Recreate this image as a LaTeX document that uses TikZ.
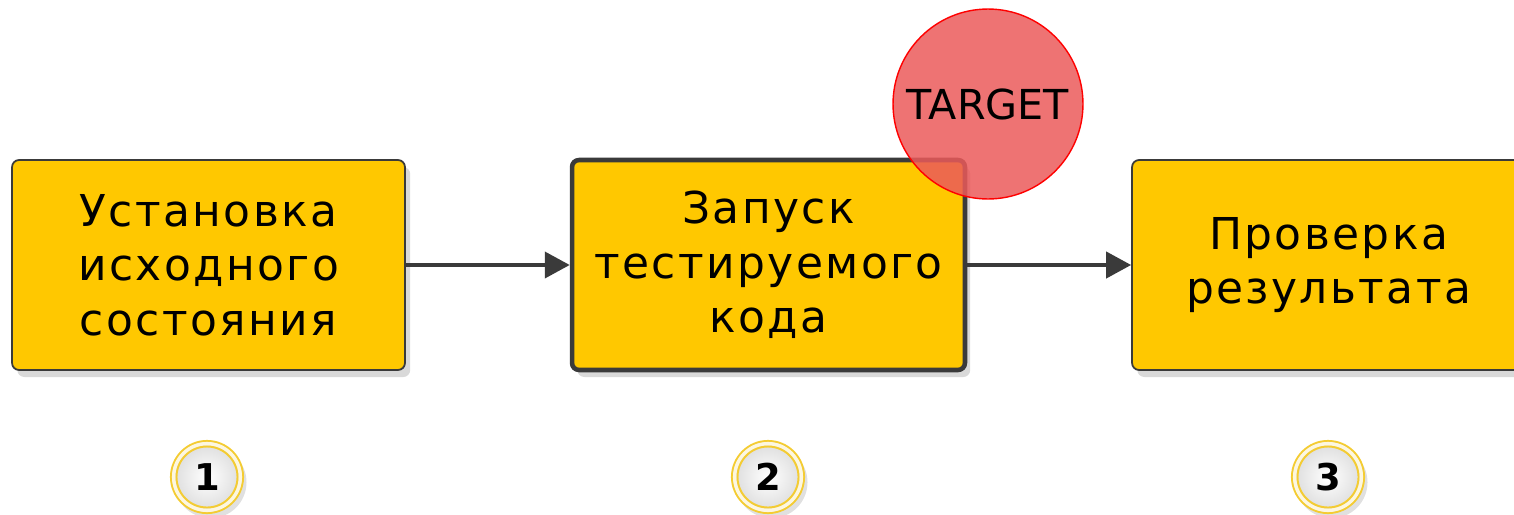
\documentclass[tikz,border=0pt]{standalone}
\usepackage{fontspec}
\setmainfont{DejaVu Sans}
\newfontfamily\boxfont[LetterSpace=5.5]{DejaVu Sans}
\usetikzlibrary{arrows.meta,shadows,positioning}
\definecolor{boxfill}{RGB}{255,200,0}
\definecolor{boxline}{RGB}{58,58,58}
\definecolor{ringgold}{RGB}{244,204,50}
\definecolor{targetfill}{RGB}{235,90,90}
\tikzset{
  stepbox/.style={draw=boxline, fill=boxfill, rounded corners=4pt,
    line width=1pt, minimum width=7.86cm, minimum height=4.2cm,
    align=center, font=\boxfont\fontsize{25}{31}\selectfont,
    drop shadow={shadow xshift=3pt, shadow yshift=-4pt, opacity=0.15, fill=black}},
  flow/.style={line width=2.3pt, draw=boxline, -{Triangle[length=0.5cm, width=0.52cm]}},
}
\begin{document}
\begin{tikzpicture}[x=0.02cm, y=-0.02cm]
  \useasboundingbox (0,0) rectangle (1514,514);
  \def\ymid{265};
  % steps
  \node[stepbox] (setup) at (208.5,\ymid) {Установка\\исходного\\состояния};
  \node[stepbox, line width=2.6pt] (run) at (768.5,\ymid) {Запуск\\тестируемого\\кода};
  \node[stepbox] (check) at (1328.5,\ymid) {Проверка\\результата};
  \draw[flow] (setup) -- (run);
  \draw[flow] (run) -- (check);
  % target mark
  \node[circle, minimum size=3.8cm, fill=targetfill, fill opacity=0.85, draw=red,
    line width=0.8pt, text opacity=1, font=\fontsize{23.5}{28}\selectfont]
    (target) at (988,104) {TARGET};
  % step numbers
  \foreach \n/\x in {1/207,2/768,3/1328} {
      \node[circle, minimum size=1.44cm, inner color=white, outer color=black!14,
        draw=ringgold, line width=1.2pt,
        drop shadow={shadow xshift=2pt, shadow yshift=-3pt, opacity=0.12, fill=black},
        font=\bfseries\fontsize{21}{24}\selectfont] (num\n) at (\x,477) {\n};
      \draw[ringgold!15, line width=2pt] (num\n.center) circle (33.3);
      \draw[ringgold, line width=1.1pt] (num\n.center) circle (30.5);
  }
\end{tikzpicture}
\end{document}
